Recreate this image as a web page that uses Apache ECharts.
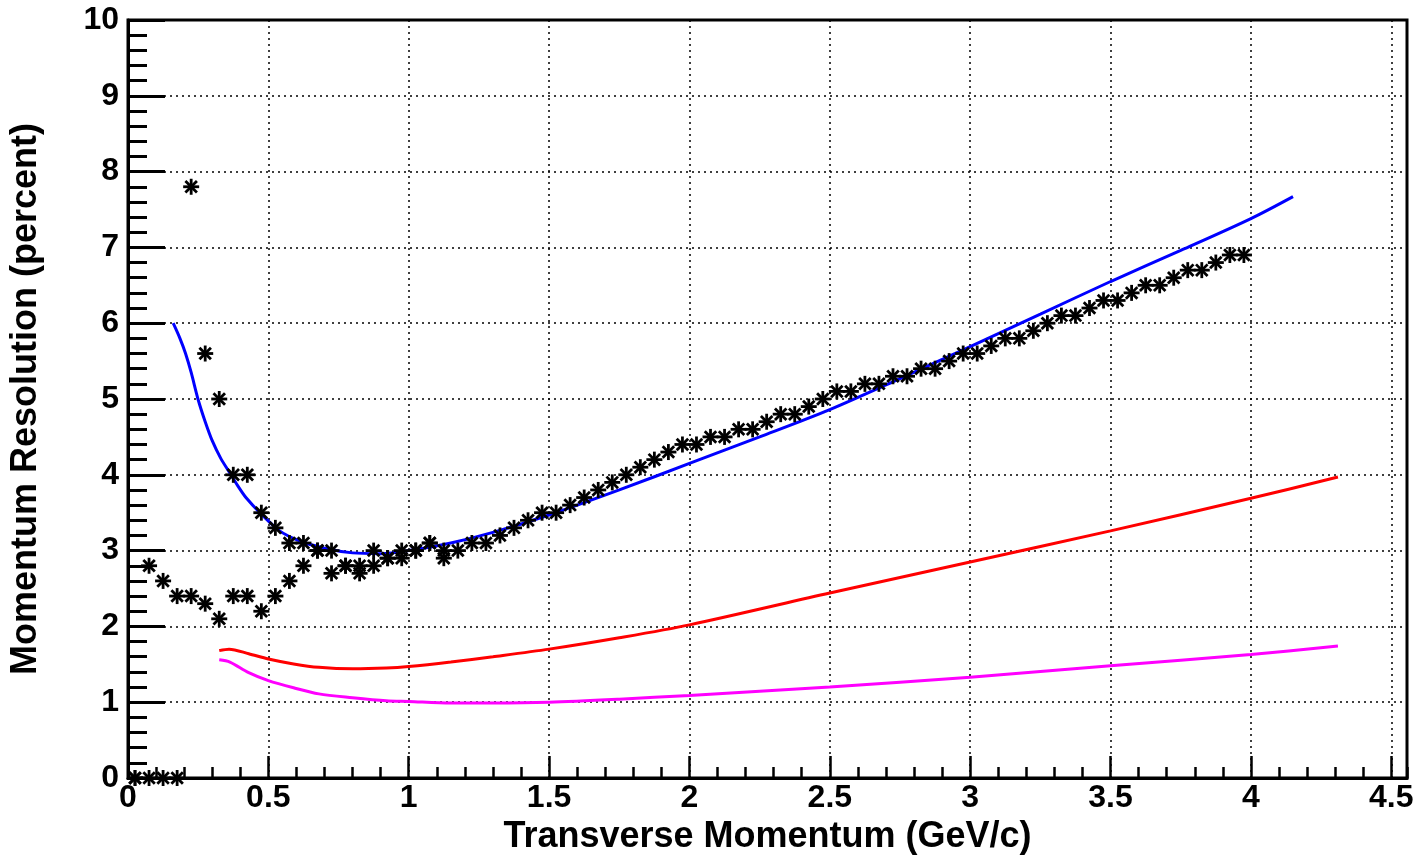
<!DOCTYPE html>
<html>
<head>
<meta charset="utf-8">
<script src="https://cdn.jsdelivr.net/npm/echarts@6/dist/echarts.min.js"></script>
<style>
body{margin:0;background:#fff;}
#main{width:1418px;height:855px;}
</style>
</head>
<body>
<div id="main"></div>
<script>
// measured points (asterisks), two sets that overlap above ~1 GeV/c
var ptA = [0.025,0.075,0.125,0.175,0.225,0.275,0.325,0.375,0.425,0.475,0.525,0.575,0.625,0.675,0.725,0.775,0.825,0.875,0.925,0.975,
	1.025,1.075,1.125,1.175,1.225,1.275,1.325,1.375,1.425,1.475,1.525,1.575,1.625,1.675,1.725,1.775,1.825,1.875,1.925,1.975,
	2.025,2.075,2.125,2.175,2.225,2.275,2.325,2.375,2.425,2.475,2.525,2.575,2.625,2.675,2.725,2.775,2.825,2.875,2.925,2.975,
	3.025,3.075,3.125,3.175,3.225,3.275,3.325,3.375,3.425,3.475,3.525,3.575,3.625,3.675,3.725,3.775,3.825,3.875,3.925,3.975];
var resA = [0,0,0,0,7.8,5.6,5.0,4.0,4.0,3.5,3.3,3.1,3.1,3.0,3.0,2.8,2.8,3.0,2.9,3.0,
	3.0,3.1,3.0,3.0,3.1,3.1,3.2,3.3,3.4,3.5,3.5,3.6,3.7,3.8,3.9,4.0,4.1,4.2,4.3,4.4,
	4.4,4.5,4.5,4.6,4.6,4.7,4.8,4.8,4.9,5.0,5.1,5.1,5.2,5.2,5.3,5.3,5.4,5.4,5.5,5.6,
	5.6,5.7,5.8,5.8,5.9,6.0,6.1,6.1,6.2,6.3,6.3,6.4,6.5,6.5,6.6,6.7,6.7,6.8,6.9,6.9];
var ptB = [0.025,0.075,0.125,0.175,0.225,0.275,0.325,0.375,0.425,0.475,0.525,0.575,0.625,0.675,0.725,0.775,0.825,0.875,0.925,0.975,1.025,1.075,1.125];
var resB = [0,2.8,2.6,2.4,2.4,2.3,2.1,2.4,2.4,2.2,2.4,2.6,2.8,3.0,2.7,2.8,2.7,2.8,2.9,2.9,3.0,3.1,2.9];

// curves
var blueX = [0.161,0.185,0.205,0.225,0.25,0.275,0.3,0.33,0.36,0.39,0.42,0.47,0.54,0.61,0.7,0.8,0.9,1.0,1.15,1.3,1.5,1.75,2.0,2.25,2.5,2.75,3.0,3.25,3.5,3.75,4.0,4.15];
var blueY = [6.0,5.8,5.6,5.35,4.99,4.7,4.45,4.22,4.04,3.86,3.7,3.5,3.26,3.13,3.03,2.97,2.96,3.0,3.1,3.24,3.47,3.8,4.15,4.5,4.86,5.27,5.69,6.12,6.55,6.96,7.38,7.67];
var redX = [0.325,0.36,0.43,0.5,0.59,0.68,0.8,0.92,1.0,1.15,1.3,1.5,1.75,2.0,2.5,3.0,3.5,4.0,4.31];
var redY = [1.68,1.70,1.64,1.57,1.505,1.46,1.44,1.45,1.47,1.53,1.6,1.70,1.85,2.02,2.44,2.85,3.26,3.69,3.97];
var magX = [0.325,0.363,0.43,0.5,0.59,0.68,0.8,0.92,1.0,1.15,1.3,1.5,1.75,2.0,2.5,3.0,3.5,4.0,4.31];
var magY = [1.56,1.53,1.39,1.285,1.19,1.11,1.06,1.02,1.01,0.99,0.99,1.0,1.04,1.09,1.20,1.33,1.48,1.63,1.74];

var xTitle = 'Transverse Momentum (GeV/c)';
var yTitle = 'Momentum Resolution (percent)';

function pairs(xs, ys){
	var out = [];
	for(var i=0;i<xs.length;i++){
		out.push([xs[i], ys[i]]);
	}
	return out;
}

// ROOT style asterisk marker: + and x on top of each other
function star(params, api){
	var p = api.coord([api.value(0), api.value(1)]);
	var r = 8, d = r*0.72;
	var st = {stroke:'#000', lineWidth:2.8};
	return {
		type:'group',
		children:[
			{type:'line', shape:{x1:p[0]-r, y1:p[1], x2:p[0]+r, y2:p[1]}, style:st},
			{type:'line', shape:{x1:p[0], y1:p[1]-r, x2:p[0], y2:p[1]+r}, style:st},
			{type:'line', shape:{x1:p[0]-d, y1:p[1]-d, x2:p[0]+d, y2:p[1]+d}, style:st},
			{type:'line', shape:{x1:p[0]-d, y1:p[1]+d, x2:p[0]+d, y2:p[1]-d}, style:st}
		]
	};
}

var titleFont = {fontFamily:'Liberation Sans', fontWeight:'bold', fontSize:36, color:'#000'};
var grid_line = {show:true, lineStyle:{color:'#000', width:1.5, type:[2,4]}};

var myChart = echarts.init(document.getElementById('main'));
var option = {
	animation:false,
	backgroundColor:'#fff',
	grid:{left:128, right:11, top:20, bottom:77, containLabel:false, outerBoundsMode:'none',
		show:true, borderColor:'#000', borderWidth:3, backgroundColor:'transparent'},
	xAxis:[{
		type:'value', min:0, max:4.556, interval:0.5, position:'bottom',
		name:xTitle, nameLocation:'middle', nameGap:36, nameTextStyle:titleFont,
		axisLine:{show:true, lineStyle:{color:'#000', width:3}},
		axisTick:{show:true, inside:true, length:22, lineStyle:{color:'#000', width:2.5}},
		axisLabel:{show:true, margin:4, showMaxLabel:false, fontFamily:'Liberation Sans', fontWeight:'bold', fontSize:32, color:'#000',
			formatter:function(v){ return Math.abs(v*2-Math.round(v*2))<1e-6 ? String(v) : ''; }},
		splitLine:grid_line
	},{
		// minor ticks every 0.1
		type:'value', min:0, max:4.556, interval:0.1, position:'bottom',
		axisLine:{show:false},
		axisTick:{show:true, inside:true, length:11, lineStyle:{color:'#000', width:2.5}},
		axisLabel:{show:false},
		splitLine:{show:false}
	}],
	yAxis:{
		type:'value', min:0, max:10, interval:1,
		name:yTitle, nameLocation:'middle', nameGap:84, nameTextStyle:titleFont,
		axisLine:{show:true, lineStyle:{color:'#000', width:3}},
		axisTick:{show:true, inside:true, length:37, lineStyle:{color:'#000', width:3}},
		minorTick:{show:true, splitNumber:5, length:19, lineStyle:{color:'#000', width:3}},
		axisLabel:{margin:9, fontFamily:'Liberation Sans', fontWeight:'bold', fontSize:32, color:'#000'},
		splitLine:grid_line
	},
	series:[
		{type:'line', data:pairs(blueX, blueY), showSymbol:false, smooth:0.3, lineStyle:{color:'#0000ff', width:3}, z:2},
		{type:'line', data:pairs(redX, redY), showSymbol:false, smooth:0.3, lineStyle:{color:'#ff0000', width:3}, z:2},
		{type:'line', data:pairs(magX, magY), showSymbol:false, smooth:0.3, lineStyle:{color:'#ff00ff', width:3}, z:2},
		{type:'custom', renderItem:star, data:pairs(ptA, resA), encode:{x:0, y:1}, clip:false, z:3},
		{type:'custom', renderItem:star, data:pairs(ptB, resB), encode:{x:0, y:1}, clip:false, z:3}
	]
};
myChart.setOption(option);
</script>
</body>
</html>
